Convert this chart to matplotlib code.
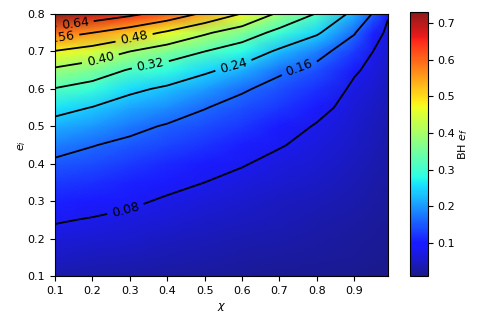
import numpy as np
import matplotlib
matplotlib.use('Agg')
import matplotlib.pyplot as plt
from matplotlib.colors import ListedColormap

# ---- data: BH e_f on a (e_i, chi) grid ----
chi = [0.1, 0.2, 0.3, 0.4, 0.5, 0.6, 0.7, 0.8, 0.9, 0.95, 0.99]
e_i = [0.10, 0.15, 0.20, 0.25, 0.30, 0.35, 0.40, 0.45, 0.50,
       0.55, 0.60, 0.65, 0.70, 0.75, 0.80]

# one row per e_i value, one column per chi value
ef = [
    [0.035, 0.032, 0.029, 0.026, 0.023, 0.020, 0.018, 0.016, 0.014, 0.012, 0.010],
    [0.050, 0.046, 0.042, 0.037, 0.033, 0.029, 0.025, 0.022, 0.019, 0.016, 0.013],
    [0.066, 0.060, 0.055, 0.049, 0.043, 0.038, 0.033, 0.028, 0.024, 0.020, 0.016],
    [0.084, 0.077, 0.069, 0.061, 0.054, 0.047, 0.041, 0.035, 0.029, 0.024, 0.019],
    [0.106, 0.098, 0.088, 0.074, 0.066, 0.057, 0.049, 0.042, 0.034, 0.028, 0.022],
    [0.128, 0.119, 0.108, 0.093, 0.080, 0.068, 0.058, 0.050, 0.039, 0.032, 0.025],
    [0.150, 0.140, 0.128, 0.114, 0.100, 0.083, 0.068, 0.058, 0.045, 0.036, 0.028],
    [0.181, 0.162, 0.148, 0.134, 0.120, 0.103, 0.083, 0.067, 0.051, 0.041, 0.032],
    [0.217, 0.200, 0.174, 0.155, 0.141, 0.123, 0.102, 0.076, 0.057, 0.046, 0.036],
    [0.261, 0.238, 0.211, 0.190, 0.162, 0.143, 0.123, 0.095, 0.062, 0.052, 0.040],
    [0.317, 0.292, 0.253, 0.230, 0.204, 0.166, 0.143, 0.119, 0.070, 0.059, 0.045],
    [0.387, 0.359, 0.314, 0.286, 0.250, 0.220, 0.168, 0.143, 0.086, 0.068, 0.051],
    [0.476, 0.446, 0.400, 0.360, 0.320, 0.281, 0.229, 0.180, 0.126, 0.080, 0.058],
    [0.594, 0.560, 0.520, 0.468, 0.410, 0.360, 0.298, 0.249, 0.164, 0.108, 0.068],
    [0.730, 0.690, 0.655, 0.610, 0.545, 0.475, 0.385, 0.315, 0.220, 0.155, 0.085],
]

levels = [0.08, 0.16, 0.24, 0.32, 0.40, 0.48, 0.56, 0.64]
# where each contour label sits (roughly as in the original)
label_spots = [(0.287, 0.285), (0.753, 0.655), (0.575, 0.671), (0.354, 0.669),
               (0.22, 0.685), (0.311, 0.738), (0.115, 0.737), (0.153, 0.778)]

# jet, a bit washed out (as if drawn with alpha ~0.9 on white)
jet = plt.get_cmap('jet')(np.linspace(0, 1, 256))
jet[:, :3] = jet[:, :3] * 0.9 + 0.1
cmap = ListedColormap(jet)

X, Y = np.meshgrid(chi, e_i)
Z = np.array(ef)

fig = plt.figure(figsize=(4.85, 3.23), dpi=100)
ax = fig.add_axes([0.1134, 0.1455, 0.6866, 0.811])
cax = fig.add_axes([0.845, 0.1455, 0.037, 0.817])

mesh = ax.pcolormesh(X, Y, Z, shading='gouraud', cmap=cmap)
cs = ax.contour(X, Y, Z, levels=levels, colors='k', linewidths=1.3)
ax.clabel(cs, fmt='%.2f', fontsize=9, manual=label_spots)

ax.set_xlim(0.1, 0.99)
ax.set_ylim(0.1, 0.8)
ax.set_xticks([0.1, 0.2, 0.3, 0.4, 0.5, 0.6, 0.7, 0.8, 0.9])
ax.tick_params(labelsize=8)
ax.set_xlabel(r'$\chi$', fontsize=8)
ax.set_ylabel(r'$e_i$', fontsize=8, labelpad=0)

cb = fig.colorbar(mesh, cax=cax)
cb.ax.tick_params(labelsize=8)
cb.set_label(r'BH $e_f$', fontsize=8, labelpad=1)

fig.savefig('out.png', dpi=100)
